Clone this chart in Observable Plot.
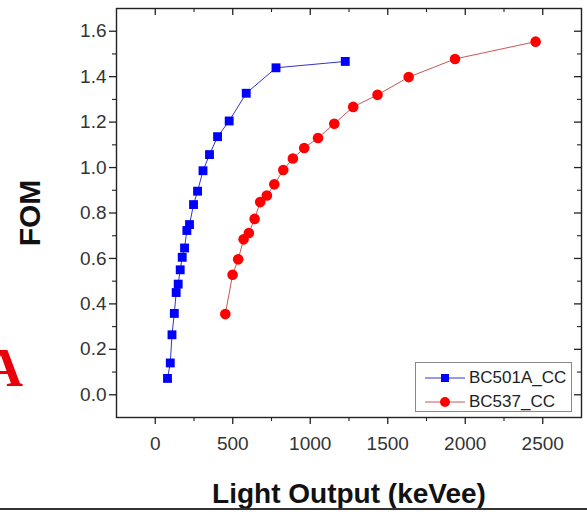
<!DOCTYPE html>
<html>
<head>
<meta charset="utf-8">
<script src="https://cdn.jsdelivr.net/npm/d3@7"></script>
<script src="https://cdn.jsdelivr.net/npm/@observablehq/plot@0.6"></script>
<style>
  html, body { margin: 0; padding: 0; background: #fff; }
  #wrap { position: relative; width: 587px; height: 512px; overflow: hidden; font-family: "Liberation Sans", Arial, sans-serif; }
  #legend { position: absolute; left: 415px; top: 362px; width: 157px; height: 50px; border: 1px solid #888; background: #fff; box-sizing: border-box; }
  .row { position: absolute; left: 0; height: 22px; display: flex; align-items: center; font-size: 17px; color: #222; }
  .row svg { margin-left: 9px; margin-right: 4px; }
  #bigA { position: absolute; left: -16px; top: 341px; font-family: "Liberation Serif", "DejaVu Serif", serif; font-weight: bold; font-size: 54px; color: #e8000b; line-height: 1; }
  #bottomline { position: absolute; left: 0; top: 508px; width: 587px; height: 2px; background: #333; }
</style>
</head>
<body>
<div id="wrap">
  <div id="chart"></div>
  <div id="bigA">A</div>
  <div id="legend">
    <div class="row" style="top:4px"><svg width="40" height="12"><line x1="0" y1="6" x2="40" y2="6" stroke="#3333cc" stroke-width="1"/><rect x="16" y="2" width="8" height="8" fill="#0000ff"/></svg><span>BC501A_CC</span></div>
    <div class="row" style="top:28px"><svg width="40" height="12"><line x1="0" y1="6" x2="40" y2="6" stroke="#cc5555" stroke-width="1"/><circle cx="20" cy="6" r="5" fill="#ff0000"/></svg><span>BC537_CC</span></div>
  </div>
  <div id="bottomline"></div>
</div>
<script>
const blueName = "BC501A_CC";
const blueX = [79, 97, 108, 123, 135, 148, 161, 174, 189, 204, 221, 247, 273, 308, 350, 402, 477, 587, 779, 1226];
const blueY = [0.072, 0.14, 0.264, 0.358, 0.45, 0.487, 0.55, 0.605, 0.646, 0.723, 0.749, 0.837, 0.896, 0.986, 1.057, 1.136, 1.205, 1.327, 1.439, 1.467];

const redName = "BC537_CC";
const redX = [452, 499, 535, 570, 604, 641, 677, 720, 768, 826, 888, 961, 1050, 1155, 1277, 1434, 1635, 1934, 2454];
const redY = [0.355, 0.528, 0.596, 0.684, 0.712, 0.774, 0.848, 0.877, 0.926, 0.989, 1.04, 1.086, 1.13, 1.193, 1.267, 1.32, 1.398, 1.478, 1.554];

const xMajorTicks = [0, 500, 1000, 1500, 2000, 2500];
const xMinorTicks = [250, 750, 1250, 1750, 2250];
const yMajorTicks = [0, 0.2, 0.4, 0.6, 0.8, 1.0, 1.2, 1.4, 1.6];
const yMinorTicks = [0.1, 0.3, 0.5, 0.7, 0.9, 1.1, 1.3, 1.5];

const xLabel = "Light Output (keVee)";
const yLabel = "FOM";

const blue = blueX.map((x, i) => ({x, y: blueY[i]}));
const red = redX.map((x, i) => ({x, y: redY[i]}));

const W = 587, H = 512;
const mT = 8, mB = 95, mL = 116, mR = 6;
const frameW = W - mL - mR, frameH = H - mT - mB;

const chart = Plot.plot({
  width: W,
  height: H,
  marginTop: mT,
  marginBottom: mB,
  marginLeft: mL,
  marginRight: mR,
  style: {fontFamily: "'Liberation Sans', Arial, sans-serif", color: "#222", background: "transparent"},
  x: {domain: [-250, 2750]},
  y: {domain: [-0.1, 1.7]},
  marks: [
    Plot.frame({stroke: "#222", strokeWidth: 1.4}),
    // bottom axis (outward ticks)
    Plot.axisX({anchor: "bottom", ticks: xMajorTicks, tickSize: 7, tickPadding: 12, tickFormat: d3.format("d"), fontSize: 19, fill: "#333", stroke: "#222", strokeWidth: 1.3, label: null}),
    Plot.axisX({anchor: "bottom", ticks: xMinorTicks, tickSize: 4, text: null, stroke: "#222", strokeWidth: 1.1, label: null}),
    Plot.axisX({anchor: "bottom", ticks: [], tickSize: 0, label: xLabel, labelAnchor: "center", labelArrow: "none", labelOffset: 85, fontSize: 28, fontWeight: "bold", fill: "#111"}),
    // left axis (outward ticks)
    Plot.axisY({anchor: "left", ticks: yMajorTicks, tickSize: 7, tickPadding: 3, tickFormat: d3.format(".1f"), fontSize: 19, fill: "#333", stroke: "#222", strokeWidth: 1.3, label: null}),
    Plot.axisY({anchor: "left", ticks: yMinorTicks, tickSize: 4, text: null, stroke: "#222", strokeWidth: 1.1, label: null}),
    Plot.axisY({anchor: "left", ticks: [], tickSize: 0, label: yLabel, labelAnchor: "center", labelArrow: "none", labelOffset: 98, fontSize: 30, fontWeight: "bold", fill: "#111"}),
    // top inward ticks
    Plot.tickX(xMajorTicks, {x: d => d, insetBottom: frameH - 7, stroke: "#222", strokeWidth: 1.3}),
    Plot.tickX(xMinorTicks, {x: d => d, insetBottom: frameH - 4, stroke: "#222", strokeWidth: 1.1}),
    // right inward ticks
    Plot.tickY(yMajorTicks, {y: d => d, insetLeft: frameW - 7, stroke: "#222", strokeWidth: 1.3}),
    Plot.tickY(yMinorTicks, {y: d => d, insetLeft: frameW - 4, stroke: "#222", strokeWidth: 1.1}),
    // series
    Plot.line(blue, {x: "x", y: "y", stroke: "#3333cc", strokeWidth: 1}),
    Plot.dot(blue, {x: "x", y: "y", symbol: "square", r: 5, fill: "#0000ff", stroke: "none"}),
    Plot.line(red, {x: "x", y: "y", stroke: "#cc5555", strokeWidth: 1}),
    Plot.dot(red, {x: "x", y: "y", symbol: "circle", r: 5.3, fill: "#ff0000", stroke: "none"})
  ]
});
document.getElementById("chart").appendChild(chart);
</script>
</body>
</html>
